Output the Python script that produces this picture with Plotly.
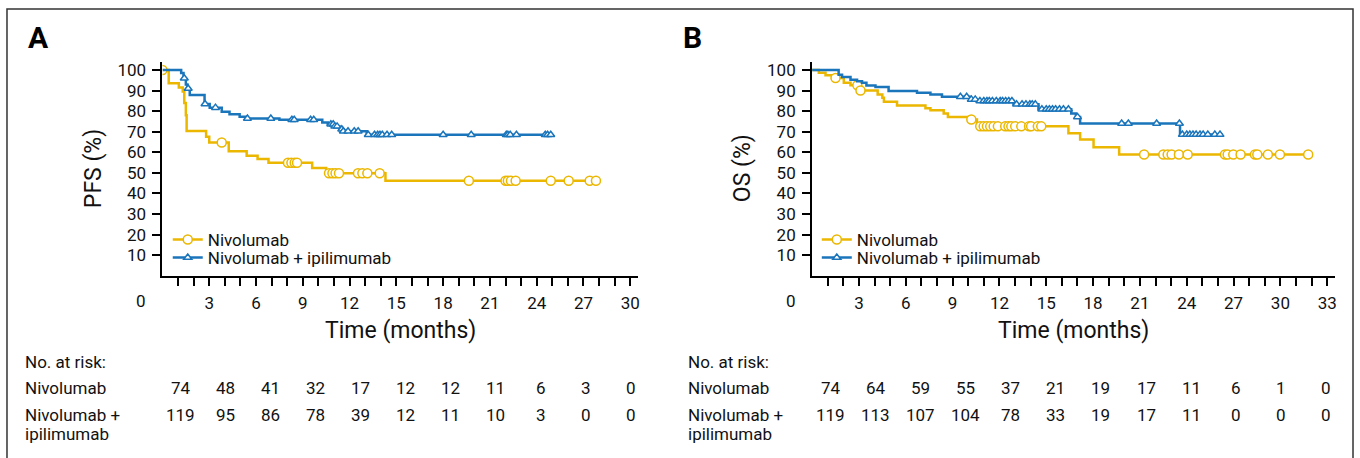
import plotly.graph_objects as go

W, H = 1360, 458
YELLOW = "#EBB700"
BLUE = "#1A75BB"
FONT = "Roboto, Arial, sans-serif"

# ---------------- Panel A : PFS ----------------
pfs_nivo_t = [0, 0.4, 1.05, 1.3, 1.4, 1.5, 1.55, 2.8, 3.0, 4.25, 5.4, 6.1, 6.8, 9.6, 10.5, 14.3]
pfs_nivo_s = [100, 93.5, 91.5, 89.5, 84, 78, 70.3, 67.5, 64.8, 60.5, 58.3, 56.8, 54.9, 52.4, 49.8, 46.2]
pfs_nivo_end = 27.8
pfs_nivo_cens = [0, 3.8, 8.05, 8.27, 8.48, 8.63, 10.68, 10.9, 11.1, 11.32, 12.54, 12.82, 13.14, 13.93,
                 19.65, 22.0, 22.15, 22.35, 22.65, 24.9, 26.05, 27.4, 27.8]

pfs_combo_t = [0, 1.2, 1.35, 1.5, 1.6, 1.75, 2.7, 3.03, 3.8, 4.3, 4.95, 5.4, 7.5, 10.25, 10.6, 11.05, 11.35, 11.6, 13.1]
pfs_combo_s = [100, 98.5, 96, 93, 91, 87.8, 83.5, 81.7, 79.7, 78.5, 77.3, 76.4, 75.8, 74.5, 73.6, 72.6, 71.2, 70.2, 68.5]
pfs_combo_end = 24.9
pfs_combo_cens = [1.4, 1.65, 2.73, 3.4, 5.45, 6.95, 8.3, 8.45, 9.5, 9.7, 10.8, 10.95, 11.05, 11.2, 11.5, 11.6,
                  11.9, 12.3, 12.55, 13.2, 13.6, 13.8, 13.95, 14.1, 14.4, 14.7, 18.0, 19.8, 22.05, 22.15,
                  22.3, 22.7, 24.55, 24.7, 24.9]

# ---------------- Panel B : OS ----------------
os_nivo_t = [0, 0.43, 0.86, 1.28, 2.03, 2.46, 3.0, 4.2, 4.5, 4.6, 5.44, 7.26, 7.58, 8.43, 8.7, 10.0, 10.56,
             16.42, 17.17, 18.03, 19.67]
os_nivo_s = [100, 98.6, 97.4, 96.1, 93.8, 92.6, 90.0, 88.1, 86.5, 84.6, 82.8, 81.4, 80.4, 78.8, 77.2, 75.9, 72.6,
             69.2, 66.2, 62.5, 58.9]
os_nivo_end = 31.8
os_nivo_cens = [1.5, 2.9, 3.1, 10.2, 10.77, 10.99, 11.2, 11.41, 11.63, 11.9, 12.37, 12.58, 12.76, 13.01, 13.4,
                13.9, 14.03, 14.46, 14.68, 21.27, 22.5, 22.78, 23.03, 23.5, 24.06, 26.45, 26.62, 26.98,
                27.45, 28.37, 28.52, 29.2, 29.97, 31.78]

os_combo_t = [0, 1.7, 1.92, 2.46, 2.88, 3.2, 3.48, 4.06, 4.9, 6.72, 7.58, 8.32, 10.13, 10.56, 12.9, 14.5,
              16.6, 16.9, 17.17, 23.57]
os_combo_s = [100, 97.7, 96.6, 95.3, 94.5, 93.8, 92.5, 91.7, 89.8, 88.9, 88.1, 87.0, 85.7, 84.9, 83.3, 80.9,
              78.8, 77.2, 74.0, 68.6]
os_combo_end = 26.3
os_combo_cens = [9.5, 9.9, 10.2, 10.45, 10.75, 11.0, 11.2, 11.35, 11.55, 11.8, 12.05, 12.2, 12.4, 12.6, 12.8,
                 13.1, 13.45, 13.7, 13.95, 14.1, 14.3, 14.72, 15.0, 15.2, 15.4, 15.6, 15.85, 16.1, 16.42,
                 17.0, 19.83, 20.26, 22.07, 23.53, 23.72, 24.0, 24.2, 24.4, 24.6, 24.85, 25.05, 25.35,
                 25.8, 26.13]

# ---------------- Risk tables / labels ----------------
series_names = ["Nivolumab", "Nivolumab + ipilimumab"]
risk_a_nivo = [74, 48, 41, 32, 17, 12, 12, 11, 6, 3, 0]
risk_a_combo = [119, 95, 86, 78, 39, 12, 11, 10, 3, 0, 0]
risk_b_nivo = [74, 64, 59, 55, 37, 21, 19, 17, 11, 6, 1, 0]
risk_b_combo = [119, 113, 107, 104, 78, 33, 19, 17, 11, 0, 0, 0]
y_ticks = [10, 20, 30, 40, 50, 60, 70, 80, 90, 100]


def fx(px):
    return px / W


def fy(py):
    return 1 - py / H


def step_xy(times, surv, t_end):
    return list(times) + [t_end], list(surv) + [surv[-1]]


def surv_at(times, surv, t):
    s = surv[0]
    for ti, si in zip(times, surv):
        if ti <= t:
            s = si
    return s


fig = go.Figure()

panels = [
    ("x", "y", ("legend", "legend2"),
     [(pfs_nivo_t, pfs_nivo_s, pfs_nivo_end, pfs_nivo_cens, YELLOW, "circle", 9),
      (pfs_combo_t, pfs_combo_s, pfs_combo_end, pfs_combo_cens, BLUE, "triangle-up", 7)]),
    ("x2", "y2", ("legend3", "legend4"),
     [(os_nivo_t, os_nivo_s, os_nivo_end, os_nivo_cens, YELLOW, "circle", 9),
      (os_combo_t, os_combo_s, os_combo_end, os_combo_cens, BLUE, "triangle-up", 7)]),
]

for xa, ya, lgs, series in panels:
    for (t, s, tend, cens, col, sym, msz), name in zip(series, series_names):
        sx, sy = step_xy(t, s, tend)
        fig.add_trace(go.Scatter(x=sx, y=sy, mode="lines", line=dict(color=col, width=2.5, shape="hv"),
                                 xaxis=xa, yaxis=ya, showlegend=False, hoverinfo="skip"))
        fig.add_trace(go.Scatter(x=cens, y=[surv_at(t, s, c) for c in cens], mode="markers",
                                 marker=dict(symbol=sym, size=msz, color="white",
                                             line=dict(color=col, width=1.5)),
                                 xaxis=xa, yaxis=ya, showlegend=False, hoverinfo="skip"))
    for (t, s, tend, cens, col, sym, msz), name, lg in zip(series, series_names, lgs):
        fig.add_trace(go.Scatter(x=[None], y=[None], mode="lines+markers", name=name,
                                 line=dict(color=col, width=2.5),
                                 marker=dict(symbol=sym, size=msz, color="white",
                                             line=dict(color=col, width=1.5)),
                                 xaxis=xa, yaxis=ya, legend=lg, showlegend=True))

axis_common = dict(showline=True, linecolor="black", linewidth=2, ticks="outside", tickcolor="black",
                   tickwidth=1.5, ticklen=8, showgrid=False, zeroline=False,
                   tickfont=dict(family=FONT, size=17, color="#111"))

xa_vals = list(range(1, 31))
xb_vals = list(range(1, 34))


def legend_at(px, py):
    return dict(x=fx(px), y=fy(py), xanchor="left", yanchor="middle", bgcolor="rgba(0,0,0,0)",
                font=dict(family=FONT, size=17, color="#111"), itemwidth=30)


fig.update_layout(
    width=W, height=H, margin=dict(l=0, r=0, t=0, b=0),
    paper_bgcolor="white", plot_bgcolor="white",
    xaxis=dict(domain=[fx(162.7), fx(639)], range=[0, 30.5], anchor="y",
               tickmode="array", tickvals=xa_vals,
               ticktext=[str(v) if v % 3 == 0 else "" for v in xa_vals],
               ticklabelstandoff=3, **axis_common),
    yaxis=dict(domain=[fy(275), fy(60)], range=[0, 104], anchor="x",
               tickmode="array", tickvals=y_ticks, ticklabelstandoff=3, **axis_common),
    xaxis2=dict(domain=[fx(813.3), fx(1337)], range=[0, 33.5], anchor="y2",
                tickmode="array", tickvals=xb_vals,
                ticktext=[str(v) if v % 3 == 0 else "" for v in xb_vals],
                ticklabelstandoff=3, **axis_common),
    yaxis2=dict(domain=[fy(275), fy(60)], range=[0, 104], anchor="x2",
                tickmode="array", tickvals=y_ticks, ticklabelstandoff=3, **axis_common),
    legend=legend_at(168, 239),
    legend2=legend_at(168, 257),
    legend3=legend_at(818, 239),
    legend4=legend_at(818, 257),
    showlegend=True,
)

ann = []
txt = dict(family=FONT, color="#111")


def label(px, py, text, size, xanchor="center", **kw):
    ann.append(dict(x=fx(px), y=fy(py), xref="paper", yref="paper", text=text, showarrow=False,
                    xanchor=xanchor, yanchor="middle", font=dict(size=size, **txt), **kw))


# zero labels at corners
for xr, yr in (("x", "y"), ("x2", "y2")):
    ann.append(dict(x=0, y=0, xref=xr, yref=yr, text="0", showarrow=False, xshift=-21, yshift=-25,
                    xanchor="center", yanchor="middle", font=dict(size=17, **txt)))
# axis titles
label(93, 167, "PFS (%)", 23, textangle=-90)
label(743, 167, "OS (%)", 23, textangle=-90)
label(401, 330, "Time (months)", 23)
label(1075, 330, "Time (months)", 23)
# panel letters
for px, letter in ((26, "A"), (682, "B")):
    ann.append(dict(x=fx(px), y=fy(36), xref="paper", yref="paper", text="<b>%s</b>" % letter,
                    xanchor="left", yanchor="middle", showarrow=False,
                    font=dict(size=30, family=FONT, color="black")))

# risk tables
for x_label, x0, rn, rc in ((23, 181, risk_a_nivo, risk_a_combo), (687, 832, risk_b_nivo, risk_b_combo)):
    label(x_label, 362, "No. at risk:", 17, xanchor="left")
    label(x_label, 388, "Nivolumab", 17, xanchor="left")
    label(x_label, 415, "Nivolumab +", 17, xanchor="left")
    label(x_label, 434, "ipilimumab", 17, xanchor="left")
    for i, (a, b) in enumerate(zip(rn, rc)):
        xp = x0 + 45.1 * i
        label(xp, 388, str(a), 17)
        label(xp, 415, str(b), 17)

fig.update_layout(annotations=ann,
                  shapes=[dict(type="rect", xref="paper", yref="paper", x0=fx(7), x1=fx(1355),
                               y0=-0.1, y1=fy(7), line=dict(color="#333", width=1.5))])

fig.write_html("out.html")
